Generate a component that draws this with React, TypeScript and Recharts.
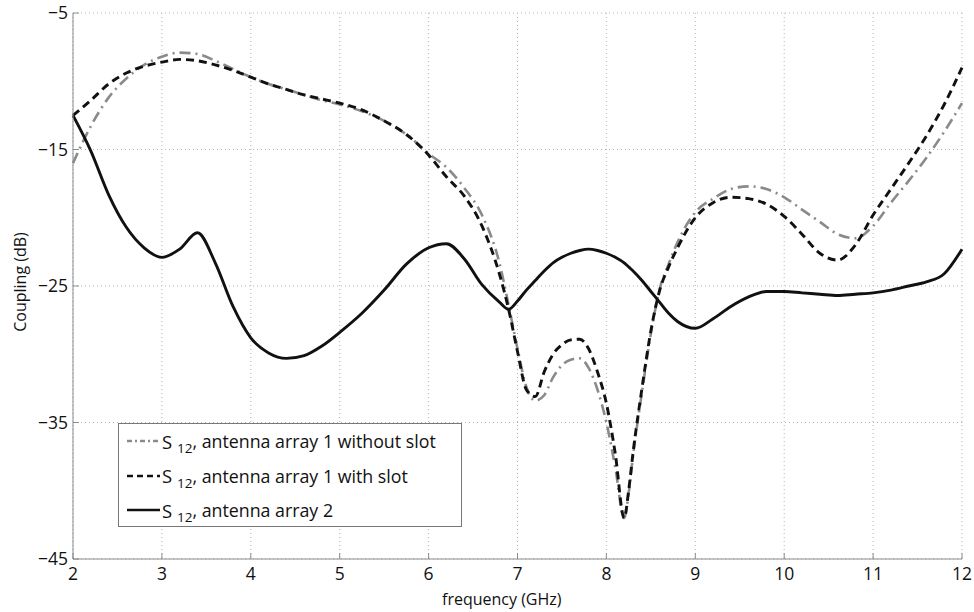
import React from 'react';
import { LineChart, Line, XAxis, YAxis, CartesianGrid } from 'recharts';

// frequency points (GHz), denser around the dips
const freq = [
  2, 2.2, 2.4, 2.6, 2.8, 3, 3.2, 3.4, 3.6, 3.8, 4, 4.2, 4.4, 4.6, 4.8, 5, 5.25, 5.5, 5.75, 6,
  6.2, 6.4, 6.6, 6.8, 6.9, 7, 7.1, 7.2, 7.3, 7.4, 7.5, 7.6, 7.7, 7.8, 7.9, 8, 8.1, 8.2, 8.25,
  8.3, 8.4, 8.5, 8.6, 8.7, 8.8, 9, 9.2, 9.4, 9.6, 9.8, 10, 10.2, 10.4, 10.6, 10.8, 11, 11.2,
  11.4, 11.6, 11.8, 12,
];

const withoutSlot = [
  -16.0, -13.3, -11.2, -9.8, -8.8, -8.2, -7.9, -8.0, -8.5, -9.1, -9.7, -10.2, -10.6, -11.0, -11.4, -11.7, -12.2, -12.9, -13.9, -15.3,
  -16.3, -17.8, -19.8, -23.4, -26.4, -29.6, -32.4, -33.4, -33.0, -31.7, -30.8, -30.4, -30.3, -31.0, -32.6, -35.0, -38.3, -42.0, -40.2,
  -37.4, -32.8, -28.5, -25.2, -23.4, -21.8, -19.6, -18.6, -17.9, -17.7, -17.9, -18.5, -19.4, -20.3, -21.2, -21.5, -20.6, -18.9,
  -17.3, -15.6, -13.7, -11.6,
];

const withSlot = [
  -12.5, -11.4, -10.2, -9.4, -8.9, -8.6, -8.4, -8.5, -8.8, -9.2, -9.7, -10.2, -10.6, -11.0, -11.3, -11.6, -12.1, -12.9, -13.9, -15.4,
  -17.0, -18.4, -20.6, -24.2, -26.7, -29.8, -32.6, -33.1, -31.3, -30.0, -29.3, -28.95, -28.9, -29.6, -31.3, -33.6, -37.3, -42.0, -40.0,
  -37.2, -32.5, -28.3, -25.3, -23.6, -22.2, -20.0, -18.9, -18.5, -18.6, -19.0, -19.9, -21.2, -22.6, -23.1, -22.0, -19.8, -17.9,
  -16.0, -14.0, -11.7, -9.0,
];

const array2 = [
  -12.5, -15.1, -18.3, -20.7, -22.2, -22.9, -22.3, -21.1, -23.3, -26.5, -28.8, -29.9, -30.3, -30.1, -29.4, -28.4, -27.0, -25.3, -23.4, -22.2,
  -21.9, -23.0, -24.9, -26.2, -26.7, -26.1, -25.3, -24.6, -23.9, -23.3, -22.9, -22.6, -22.4, -22.3, -22.4, -22.6, -22.9, -23.3, -23.6,
  -23.9, -24.6, -25.4, -26.2, -27.0, -27.6, -28.1, -27.4, -26.5, -25.8, -25.4, -25.4, -25.5, -25.6, -25.7, -25.6, -25.5, -25.3,
  -25.0, -24.7, -24.1, -22.3,
];

const xTicks = [2, 3, 4, 5, 6, 7, 8, 9, 10, 11, 12];
const yTicks = [-45, -35, -25, -15, -5];

const seriesNames = ['antenna array 1 without slot', 'antenna array 1 with slot', 'antenna array 2'];
const seriesKeys = ['withoutSlot', 'withSlot', 'array2'];
const seriesColors = ['#8a8a8a', '#111111', '#111111'];
const seriesDash = ['11 5 2 5', '8 5', undefined];

const data = freq.map((f, i) => ({
  f,
  withoutSlot: withoutSlot[i],
  withSlot: withSlot[i],
  array2: array2[i],
}));

const FONT = '"Open Sans", "Noto Sans", sans-serif';
const fmt = (v: number) => (v < 0 ? '\u2212' + Math.abs(v) : String(v));

const App: React.FC = () => {
  return (
    <div style={{ position: 'absolute', left: 0, top: 0, width: 974, height: 612, background: '#fff', fontFamily: FONT }}>
      <LineChart width={974} height={612} data={data} margin={{ top: 13, right: 12, bottom: 23, left: 13 }}>
        <CartesianGrid stroke="#b5b5b5" strokeDasharray="1 3" />
        <XAxis
          type="number"
          dataKey="f"
          domain={[2, 12]}
          ticks={xTicks}
          height={30}
          stroke="#8c8c8c"
          tickSize={-6}
          tickMargin={15}
          tick={{ fill: '#111', fontSize: 17.5, fontFamily: FONT }}
        />
        <XAxis
          xAxisId="top"
          orientation="top"
          type="number"
          dataKey="f"
          domain={[2, 12]}
          ticks={xTicks}
          height={0}
          stroke="#8c8c8c"
          tickSize={-6}
          tickFormatter={() => ''}
        />
        <YAxis
          type="number"
          domain={[-45, -5]}
          ticks={yTicks}
          width={60}
          stroke="#8c8c8c"
          tickSize={-6}
          tickMargin={11}
          tickFormatter={fmt}
          tick={{ fill: '#111', fontSize: 17.5, fontFamily: FONT }}
        />
        <YAxis
          yAxisId="right"
          orientation="right"
          type="number"
          domain={[-45, -5]}
          ticks={yTicks}
          width={0}
          stroke="#8c8c8c"
          tickSize={-6}
          tickFormatter={() => ''}
        />
        {seriesKeys.map((k, i) => (
          <Line
            key={k}
            dataKey={k}
            type="monotone"
            stroke={seriesColors[i]}
            strokeWidth={i === 0 ? 2.6 : 2.9}
            strokeDasharray={seriesDash[i]}
            dot={false}
            isAnimationActive={false}
          />
        ))}
      </LineChart>

      {/* axis titles */}
      <div style={{ position: 'absolute', left: 442, top: 588, fontSize: 16, color: '#111', whiteSpace: 'nowrap' }}>
        frequency (GHz)
      </div>
      <div
        style={{
          position: 'absolute',
          left: 20,
          top: 282,
          fontSize: 16,
          color: '#111',
          whiteSpace: 'nowrap',
          transform: 'translate(-50%, -50%) rotate(-90deg)',
        }}
      >
        Coupling (dB)
      </div>

      {/* legend */}
      <div
        style={{
          position: 'absolute',
          left: 118,
          top: 423,
          width: 342,
          height: 102,
          border: '1px solid #777',
          background: '#fff',
        }}
      >
        {seriesNames.map((name, i) => (
          <div
            key={name}
            style={{ position: 'absolute', left: 8, top: 3 + i * 34.5, height: 28, display: 'flex', alignItems: 'center', whiteSpace: 'nowrap' }}
          >
            <svg width={33} height={10} style={{ marginRight: 2 }}>
              <line
                x1={0}
                y1={5}
                x2={33}
                y2={5}
                stroke={seriesColors[i]}
                strokeWidth={2.6}
                strokeDasharray={i === 0 ? '5 3 2 3' : i === 1 ? '6 4' : undefined}
              />
            </svg>
            <span style={{ fontSize: 18.5, color: '#111' }}>S&nbsp;</span>
            <span style={{ fontSize: 13.5, color: '#111', position: 'relative', top: 7 }}>12</span>
            <span style={{ fontSize: 17.8, color: '#111' }}>, {name}</span>
          </div>
        ))}
      </div>
    </div>
  );
};

export default App;
